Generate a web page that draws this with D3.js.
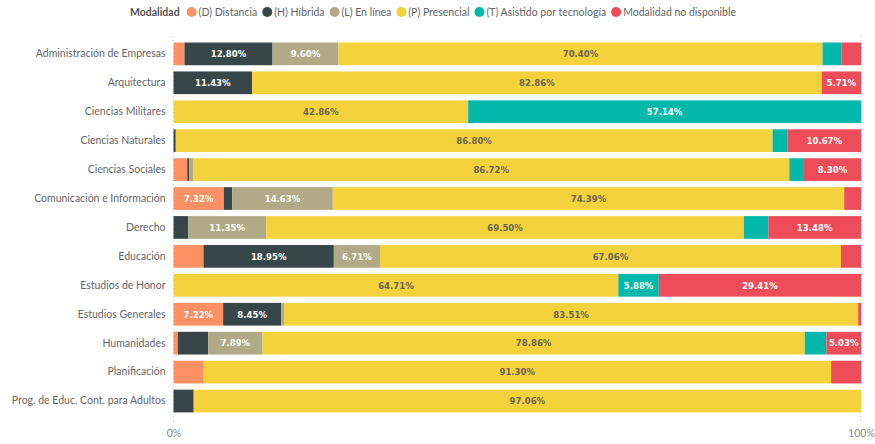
<!DOCTYPE html>
<html><head><meta charset="utf-8">
<script src="https://cdn.jsdelivr.net/npm/d3@7"></script>
<style>
body{margin:0;background:#fff;}
svg{display:block;}
</style></head><body>
<svg id="chart" width="875" height="444"></svg>
<script>
const categories = ["Administración de Empresas","Arquitectura","Ciencias Militares","Ciencias Naturales","Ciencias Sociales","Comunicación e Información","Derecho","Educación","Estudios de Honor","Estudios Generales","Humanidades","Planificación","Prog. de Educ. Cont. para Adultos"];
const seriesKeys = ["D","H","L","P","T","N"];
const seriesNames = ["(D) Distancia","(H) Híbrida","(L) En línea","(P) Presencial","(T) Asistido por tecnología","Modalidad no disponible"];
const seriesColors = ["#FE9163","#374649","#B2AA86","#F4D23C","#01B8AA","#EF4C5A"];
const labelColors = ["#ffffff","#ffffff","#ffffff","#6b6355","#ffffff","#ffffff"];
const valuesD = [1.60, 0, 0, 0, 2.00, 7.32, 0, 4.37, 0, 7.22, 0.63, 4.35, 0];
const valuesH = [12.80, 11.43, 0, 0.33, 0.30, 1.22, 2.13, 18.95, 0, 8.45, 4.42, 0, 2.94];
const valuesL = [9.60, 0, 0, 0, 0.55, 14.63, 11.35, 6.71, 0, 0.41, 7.89, 0, 0];
const valuesP = [70.40, 82.86, 42.86, 86.80, 86.72, 74.39, 69.50, 67.06, 64.71, 83.51, 78.86, 91.30, 97.06];
const valuesT = [2.80, 0, 57.14, 2.20, 2.13, 0, 3.55, 0, 5.88, 0, 3.15, 0, 0];
const valuesN = [2.80, 5.71, 0, 10.67, 8.30, 2.44, 13.48, 2.91, 29.41, 0.41, 5.03, 4.35, 0];
const xTickLabels = ["0%","100%"];

const seriesValues = [valuesD, valuesH, valuesL, valuesP, valuesT, valuesN];
const rows = categories.map((c, i) => {
  const r = {cat: c};
  seriesKeys.forEach((k, j) => r[k] = seriesValues[j][i]);
  return r;
});
const stacked = d3.stack().keys(seriesKeys).offset(d3.stackOffsetExpand)(rows);

const svg = d3.select("#chart");
const x = d3.scaleLinear().domain([0, 1]).range([173.5, 861]);
const y = d3.scaleBand().domain(categories).range([39.4, 415.5]).paddingInner(0.215).paddingOuter(0.1075);
const uiFont = "Lato, 'Open Sans', sans-serif";

// gridlines at 0 and 100%
svg.append("g").selectAll("line").data([0, 1]).join("line")
  .attr("x1", d => x(d)).attr("x2", d => x(d))
  .attr("y1", 36).attr("y2", 422)
  .attr("stroke", "#c8c8c8").attr("stroke-width", 1).attr("stroke-dasharray", "1,3");

// bars
const g = svg.append("g");
stacked.forEach((s, si) => {
  g.append("g").attr("fill", seriesColors[si]).selectAll("rect").data(s).join("rect")
    .attr("x", d => x(d[0]))
    .attr("y", d => y(d.data.cat))
    .attr("width", d => Math.max(0, x(d[1]) - x(d[0])))
    .attr("height", y.bandwidth());
});

// data labels
const fmt = v => v.toFixed(2) + "%";
stacked.forEach((s, si) => {
  const key = seriesKeys[si];
  g.append("g").selectAll("text").data(s.filter(d => d.data[key] >= 5)).join("text")
    .attr("x", d => (x(d[0]) + x(d[1])) / 2)
    .attr("y", d => y(d.data.cat) + y.bandwidth() / 2)
    .attr("dy", "0.35em")
    .attr("text-anchor", "middle")
    .attr("font-family", "'DejaVu Sans Condensed', 'DejaVu Sans', sans-serif")
    .attr("font-size", "9.5px")
    .attr("font-weight", "600")
    .attr("fill", labelColors[si])
    .text(d => fmt(d.data[key]));
});

// y axis labels
const yAxis = d3.axisLeft(y).tickSize(0).tickPadding(8);
const ya = svg.append("g").attr("transform", `translate(173.5,0)`).call(yAxis);
ya.select(".domain").remove();
ya.selectAll("text").attr("font-family", uiFont).attr("font-size", "10.5px").attr("fill", "#666666");

// x axis
const xAxis = d3.axisBottom(x).tickValues([0, 1]).tickFormat((d, i) => xTickLabels[i]).tickSize(0).tickPadding(0);
const xa = svg.append("g").attr("transform", `translate(0,430)`).call(xAxis);
xa.select(".domain").remove();
xa.selectAll("text").attr("font-family", uiFont).attr("font-size", "10.5px").attr("fill", "#888888");

// legend (laid out sequentially by measured text widths)
const legend = svg.append("g").attr("transform", "translate(0,12)");
const title = legend.append("text").attr("x", 130).attr("dy", "0.35em")
  .attr("font-family", uiFont).attr("font-size", "10.5px").attr("font-weight", "bold").attr("fill", "#555555")
  .text("Modalidad");
let cx = 130 + title.node().getComputedTextLength() + 12;
seriesNames.forEach((n, i) => {
  legend.append("circle").attr("cx", cx).attr("cy", 0).attr("r", 5).attr("fill", seriesColors[i]);
  const t = legend.append("text").attr("x", cx + 7).attr("dy", "0.35em")
    .attr("font-family", uiFont).attr("font-size", "10.5px").attr("fill", "#666666")
    .text(n);
  cx = cx + 7 + t.node().getComputedTextLength() + 10;
});
</script>
</body></html>
